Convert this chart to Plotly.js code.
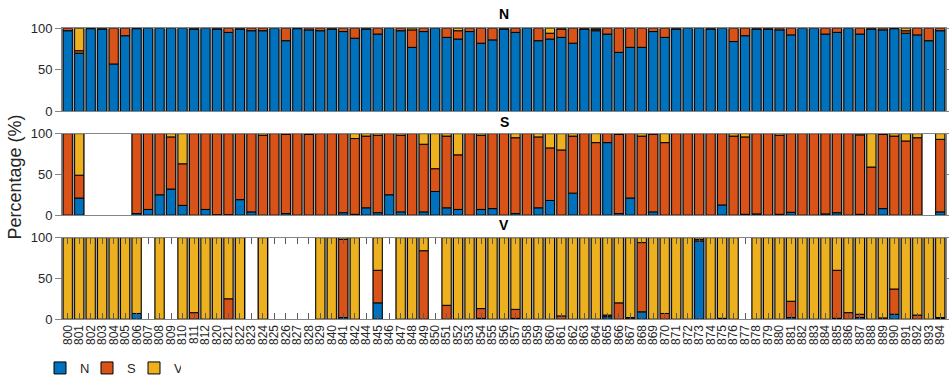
<!DOCTYPE html>
<html><head><meta charset="utf-8">
<script src="https://cdn.plot.ly/plotly-3.0.1.min.js"></script>
<style>html,body{margin:0;padding:0;background:#fff;}#chart{width:949px;height:383px;}</style>
</head><body><div id="chart"></div>
<script>
// Record labels (MIT-BIH SVDB, 843 absent)
const records = ['800','801','802','803','804','805','806','807','808','809','810','811','812',
 '820','821','822','823','824','825','826','827','828','829',
 '840','841','842','844','845','846','847','848','849','850','851','852','853','854','855','856','857','858','859',
 '860','861','862','863','864','865','866','867','868','869','870','871','872','873','874','875','876','877','878','879',
 '880','881','882','883','884','885','886','887','888','889','890','891','892','893','894'];

// Panel "N": composition (%) of N / S / V
const panelN_N = [97,70,99.5,99,57,91,99.5,100,100,100,100,99,100,
 99,95,99,97,97,100,85,99.5,98,97,
 99,96,88,99,93,100,97,77,96,100,89,87,96,82,86,99,95,100,85,
 87,89,82,99,97,93,71,77,77,96,89,99,100,100,99,100,84,91,99,99,
 98,92,100,100,93,95,100,93,99,98,99.5,94,92,85,97];
const panelN_S = [3,3,0.5,1,43,9,0.5,0,0,0,0,1,0,
 1,5,1,3,3,0,15,0.5,2,3,
 1,4,12,1,7,0,3,21,4,0,11,10,4,18,14,1,5,0,15,
 7,10,18,1,2,7,29,23,23,4,11,1,0,0,1,0,16,9,1,1,
 2,8,0,0,7,5,0,7,1,2,0.5,3,8,15,3];
const panelN_V = [0,27,0,0,0,0,0,0,0,0,0,0,0,
 0,0,0,0,0,0,0,0,0,0,
 0,0,0,0,0,0,0,2,0,0,0,3,0,0,0,0,0,0,0,
 6,1,0,0,1,0,0,0,0,0,0,0,0,0,0,0,0,0,0,0,
 0,0,0,0,0,0,0,0,0,0,0,3,0,0,0];

// Panel "S"
const panelS_N = [0,21,0,0,0,0,2,7,25,32,12,0,7,
 0.5,0.5,19,4,0,0,2,0,0,0,
 0,3,1,9,3,25,4,0,4,29,9,7,0,7,8,0,2,0,9,
 18,0,27,0,0,89,2,21,0,4,0,0,0,0,0,12.5,0,1,1.5,0,
 1,3.5,0,0,1.5,3,0,1,0,8,0,0,0,0,4];
const panelS_S = [100,28,0,0,0,0,98,93,75,64,51,100,93,
 99.5,99.5,81,96,98,100,97,100,99,100,
 100,97,93,88,95,75,94,100,83,28,88,67,100,91,92,100,93,100,87,
 64.5,80,70,100,89,11,97,79,97,95.5,89,100,100,100,100,87.5,97,95,98.5,100,
 97,96.5,100,100,98.5,97,100,97.5,59,91,97,91,95,0,89];
const panelS_V = [0,51,0,0,0,0,0,0,0,4,37,0,0,
 0,0,0,0,2,0,1,0,1,0,
 0,0,6,3,2,0,2,0,13,43,3,26,0,2,0,0,5,0,4,
 17.5,20,3,0,11,0,1,0,3,0.5,11,0,0,0,0,0,3,4,0,0,
 2,0,0,0,0,0,0,1.5,41,1,3,9,5,0,7];

// Panel "V"
const panelV_N = [0,0,0,0,0,0,7,0,0,0,0,0,0,
 0,0,0,0,0,0,0,0,0,0,
 0,2,0,0,20,0,0,0,0,0,0,0,0,1,0,0,1,0,0,
 0,0,0,0,0,3,0,0.5,9,0,0,0,0,96,0,0,0,0,0,0,
 0,2,0,0,0,1,0,2,0,0,6,0,0,0,1];
const panelV_S = [0,0,0,0,0,0,0,0,0,0,0,8,0,
 0,25,0,0,0,0,0,0,0,0,
 0,96,0,0,40,0,0,0,84,0,17,0,0,12,0,0,11,0,0,
 0,4,0,0,0,2,20,1.5,85,0,7,0,0,2,0,1,0,0,0,0,
 0,20,0,0,0,59,8,4,0,1.5,31,0,5,0,1];
const panelV_V = [100,100,100,100,100,100,93,0,100,0,100,92,100,
 100,75,100,0,100,0,0,0,0,100,
 100,2,100,0,40,0,100,100,16,0,83,100,100,87,100,100,88,100,100,
 100,96,100,100,100,95,80,98,6,100,93,100,100,2,100,99,100,0,100,100,
 100,78,100,100,100,40,92,94,100,98.5,63,100,95,100,98];

const classNames = ['N','S','V'];
const classColors = ['#0072BD','#D95319','#EDB120'];
const panelTitles = ['N','S','V'];

const W = 949, H = 383;
const xDom = [62/W, 946/W];
const panelPx = [[28.3,111.7],[134,215.7],[238.3,320]];
const titleY = [14.5,122,226];

function nz(v){ return v > 0 ? v : null; }

const panels = [[panelN_N,panelN_S,panelN_V],[panelS_N,panelS_S,panelS_V],[panelV_N,panelV_S,panelV_V]];
const traces = [];
panels.forEach((p, k) => {
  const xa = k === 0 ? 'x' : 'x' + (k+1);
  const ya = k === 0 ? 'y' : 'y' + (k+1);
  const tot = records.map((_, i) => p[0][i] + p[1][i] + p[2][i]);
  traces.push({type:'bar', x:records, y:tot.map(nz), base:0, width:1,
    marker:{color:'#a4a4a4', line:{width:0}}, xaxis:xa, yaxis:ya,
    showlegend:false, hoverinfo:'skip'});
  p.forEach((arr, c) => {
    const base = records.map((_, i) => { let b = 0; for (let j = 0; j < c; j++) b += p[j][i]; return b; });
    traces.push({type:'bar', name:classNames[c], x:records, y:arr.map(nz), base:base, width:0.8,
      marker:{color:classColors[c], line:{color:'#000', width:1}},
      xaxis:xa, yaxis:ya, showlegend:k === 2, legendgroup:classNames[c]});
  });
});

const lineCol = '#858585';
function xAxis(k){
  const a = {type:'category', categoryorder:'array', categoryarray:records, range:[-0.5, records.length-0.5],
    domain:xDom, anchor: k===0?'y':'y'+(k+1), showline:true, linecolor:lineCol, linewidth:1, mirror:true,
    showgrid:false, zeroline:false, fixedrange:true, automargin:false};
  if (k === 2) {
    Object.assign(a, {tickmode:'array', tickvals:records, ticktext:records,
      ticks:'inside', ticklen:6, tickwidth:1, tickcolor:'#5a5a5a', mirror:'ticks',
      showticklabels:true, tickangle:-90, tickfont:{size:12, color:'#262626'}});
  } else {
    Object.assign(a, {ticks:'', showticklabels:false});
  }
  return a;
}
function yAxis(k){
  const d = panelPx[k];
  return {domain:[1-d[1]/H, 1-d[0]/H], range:[0,100], tickvals:[0,50,100], ticktext:['0','50','100'],
    ticks:'outside', ticklen:6, tickwidth:1, tickcolor:lineCol, showline:true, linecolor:lineCol, linewidth:1,
    mirror:'ticks', showgrid:false, zeroline:false, fixedrange:true, automargin:false,
    anchor: k===0?'x':'x'+(k+1), tickfont:{size:13, color:'#262626'}};
}

const annotations = panelTitles.map((t, k) => ({text:'<b>'+t+'</b>', xref:'paper', yref:'paper',
  x:(xDom[0]+xDom[1])/2, y:1-titleY[k]/H, xanchor:'center', yanchor:'middle', showarrow:false,
  font:{size:14, color:'#000'}}));
annotations.push({text:'Percentage (%)', xref:'paper', yref:'paper', x:15/W, y:1-178/H, textangle:-90,
  xanchor:'center', yanchor:'middle', showarrow:false, font:{size:18, color:'#262626'}});

const layout = {
  width:W, height:H, margin:{l:0,r:0,t:0,b:0,pad:0},
  barmode:'overlay', bargap:0,
  paper_bgcolor:'#fff', plot_bgcolor:'#fff',
  font:{family:'Liberation Sans, Arial, Helvetica, sans-serif', color:'#262626', size:13},
  xaxis:xAxis(0), xaxis2:xAxis(1), xaxis3:xAxis(2),
  yaxis:yAxis(0), yaxis2:yAxis(1), yaxis3:yAxis(2),
  annotations:annotations,
  showlegend:true,
  legend:{orientation:'h', x:40/W, y:1-369/H, xanchor:'left', yanchor:'middle',
    font:{size:13, color:'#262626'}, bgcolor:'rgba(0,0,0,0)', traceorder:'normal', itemwidth:30,
    entrywidth:2, entrywidthmode:'pixels'}
};

Plotly.newPlot('chart', traces, layout, {displayModeBar:false, staticPlot:true});
</script>
</body></html>
